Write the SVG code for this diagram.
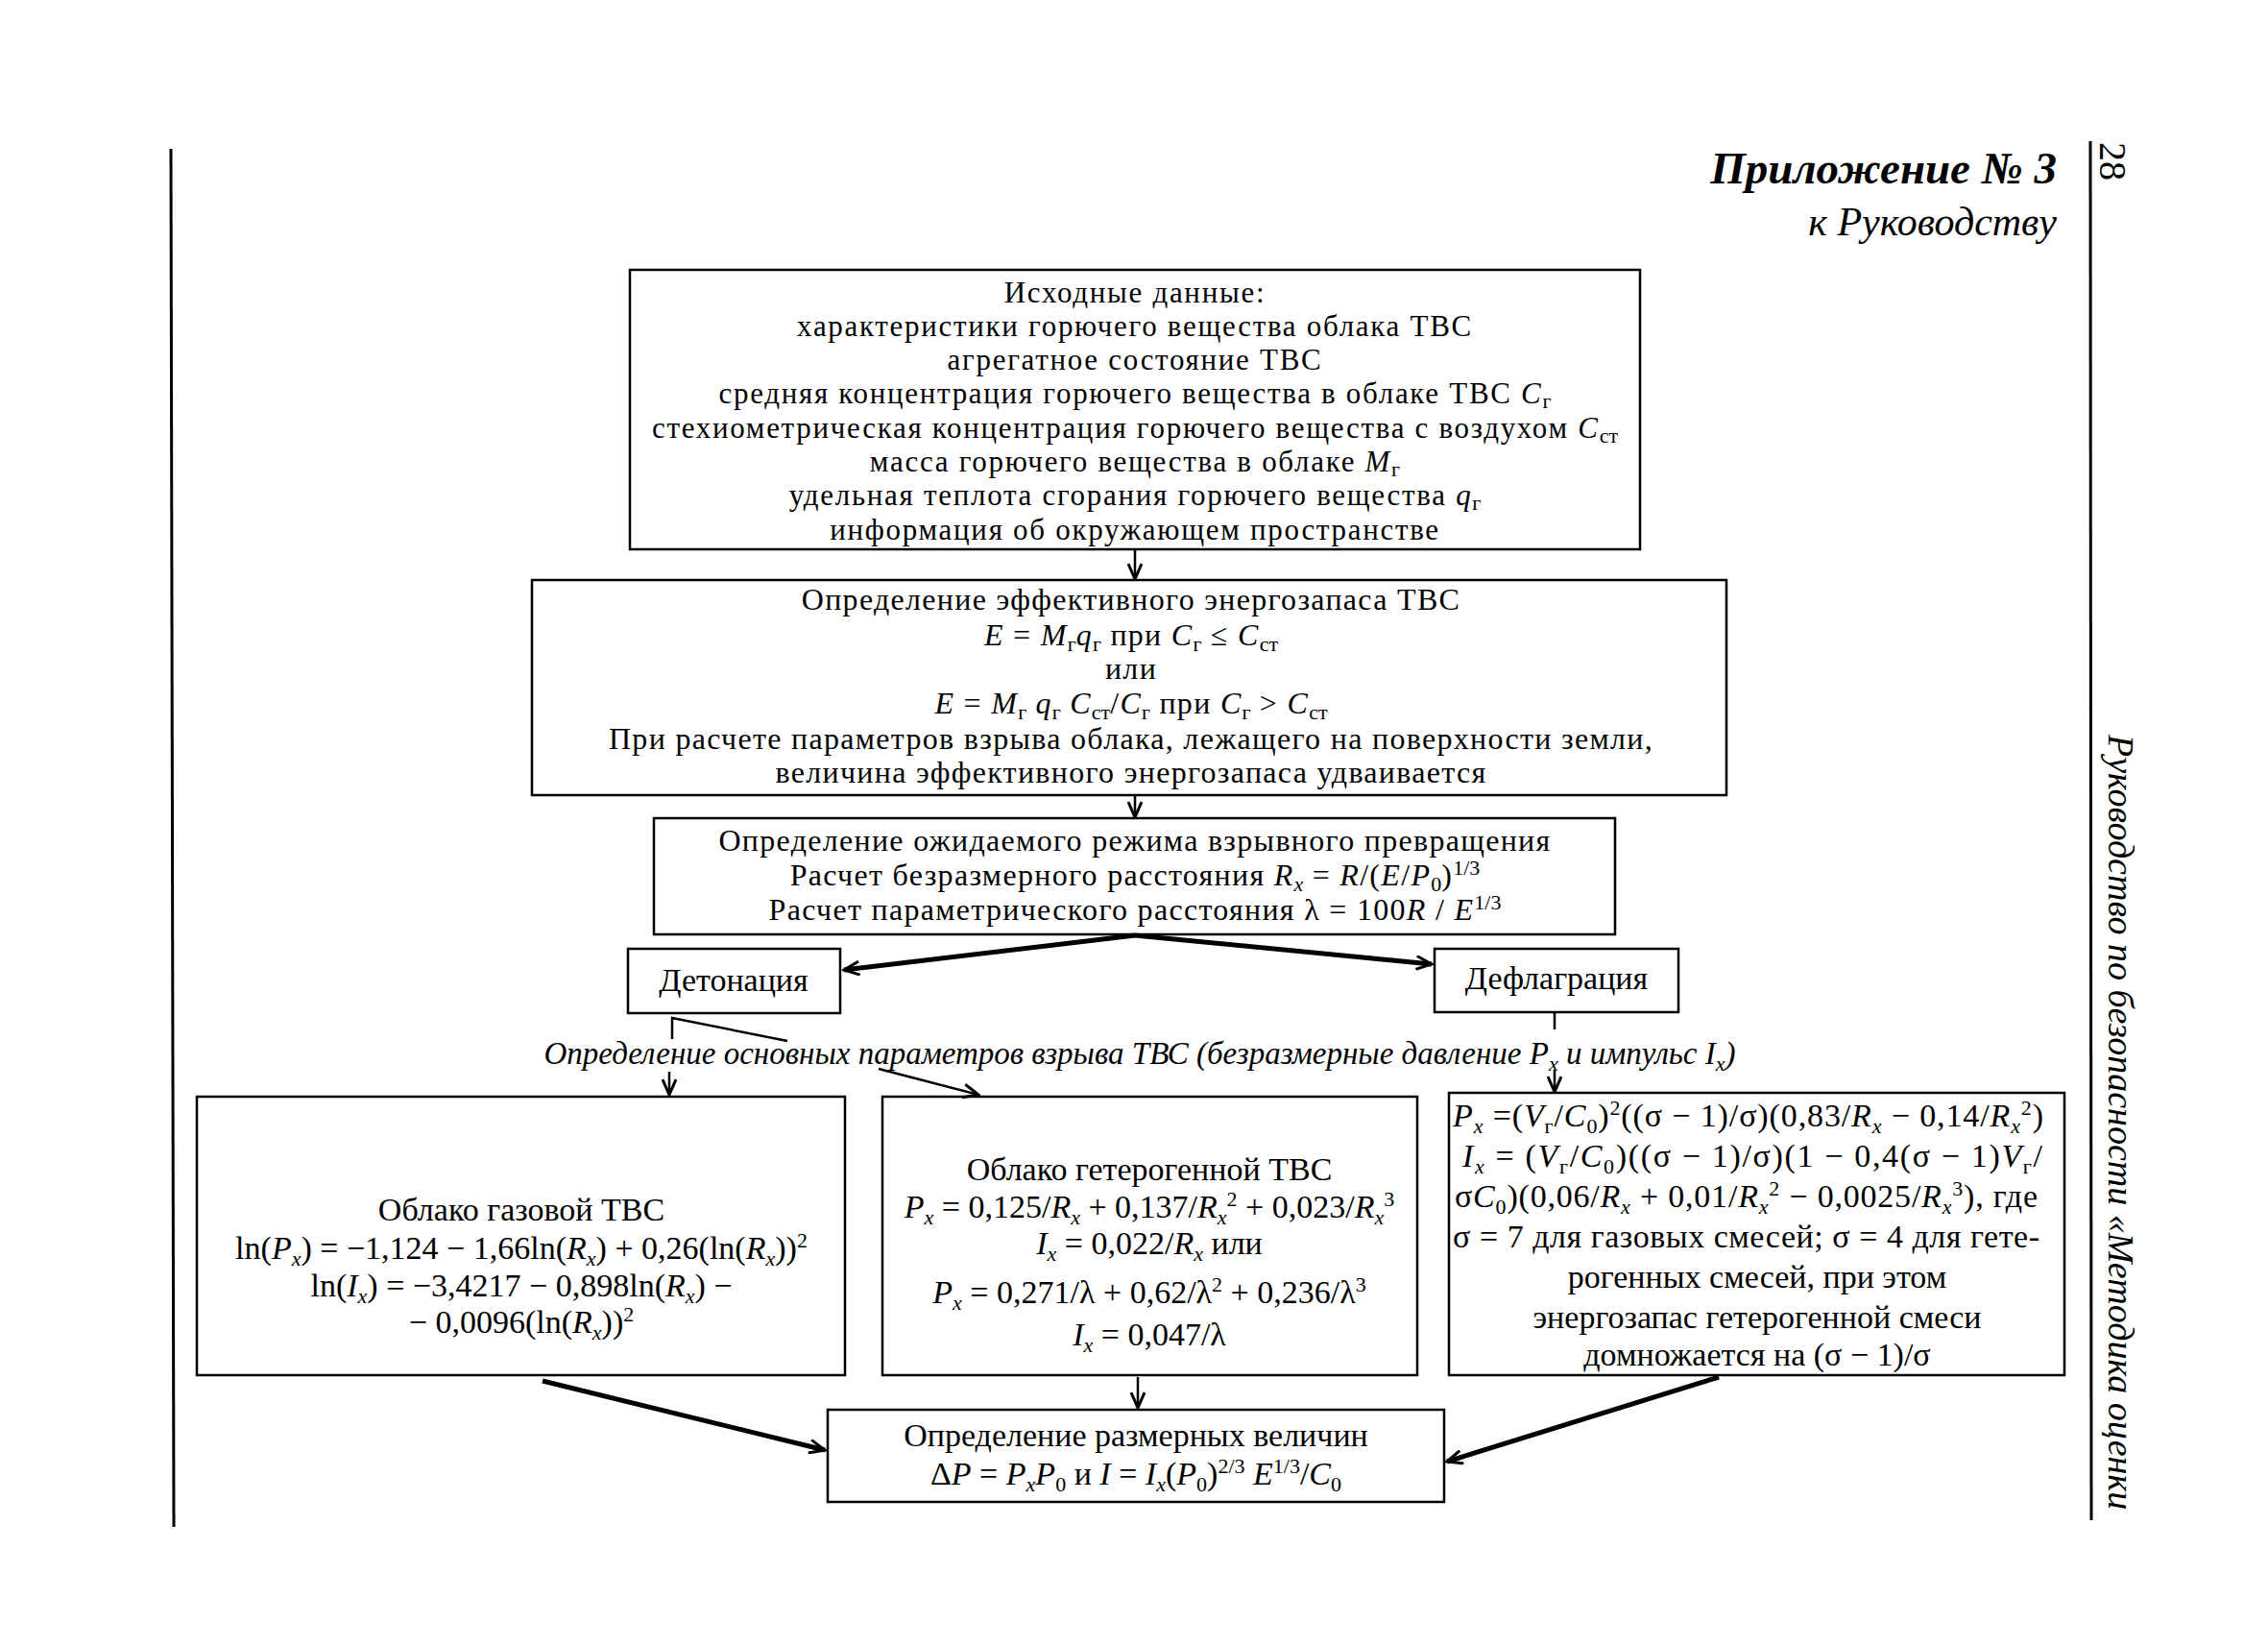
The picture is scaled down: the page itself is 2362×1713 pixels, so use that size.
<svg xmlns="http://www.w3.org/2000/svg" width="2362" height="1713" viewBox="0 0 2362 1713">
<defs>
<style>
.t{font-family:"Liberation Serif","Times New Roman",serif;font-size:34px;fill:#000}
.k{font-size:32px;letter-spacing:1.3px}
.k1{font-size:31px;letter-spacing:1.7px}
.c{text-anchor:middle}
.i{font-style:italic}
.s{font-size:22px;letter-spacing:0}
.box{fill:none;stroke:#000;stroke-width:2.5}
.ln{fill:none;stroke:#000;stroke-width:2.5}
.thk{stroke-width:5}
</style>
<marker id="ah" markerUnits="userSpaceOnUse" viewBox="0 0 20 16" markerWidth="20" markerHeight="16" refX="18" refY="8" orient="auto"><path d="M2,1 L18,8 L2,15" fill="none" stroke="#000" stroke-width="3"/></marker>
</defs>
<rect width="2362" height="1713" fill="#fff"/>

<g id="page">
<line x1="178" y1="155" x2="181" y2="1590" stroke="#000" stroke-width="3"/>
<line x1="2177" y1="147" x2="2178" y2="1583" stroke="#000" stroke-width="3"/>
<text class="t i" x="2142" y="191" style="font-size:47px;font-weight:bold;text-anchor:end">Приложение № 3</text>
<text class="t i" x="2142" y="245" style="font-size:42px;text-anchor:end">к Руководству</text>
<text class="t" transform="translate(2187,148) rotate(90)" style="font-size:40px">28</text>
<text class="t i" transform="translate(2196,765) rotate(90)" style="font-size:38px">Руководство по безопасности «Методика оценки</text>
</g>

<g id="n1">
<rect class="box" x="656" y="281" width="1052" height="291"/>
<text class="t k1 c" x="1182" y="315">Исходные данные:</text>
<text class="t k1 c" x="1182" y="350">характеристики горючего вещества облака ТВС</text>
<text class="t k1 c" x="1182" y="385">агрегатное состояние ТВС</text>
<text class="t k1 c" x="1182" y="420">средняя концентрация горючего вещества в облаке ТВС  <tspan class="i">C</tspan><tspan class="s" dy="5">г</tspan></text>
<text class="t k1 c" x="1182" y="456">стехиометрическая концентрация горючего вещества с воздухом <tspan class="i">C</tspan><tspan class="s" dy="5">ст</tspan></text>
<text class="t k1 c" x="1182" y="491">масса горючего вещества в облаке <tspan class="i">M</tspan><tspan class="s" dy="5">г</tspan></text>
<text class="t k1 c" x="1182" y="526">удельная теплота сгорания горючего вещества <tspan class="i">q</tspan><tspan class="s" dy="5">г</tspan></text>
<text class="t k1 c" x="1182" y="562">информация об окружающем пространстве</text>
</g>

<g id="n2">
<rect class="box" x="554" y="604" width="1244" height="224"/>
<text class="t k c" x="1178" y="635">Определение эффективного энергозапаса ТВС</text>
<text class="t k c" x="1178" y="672"><tspan class="i">E</tspan> = <tspan class="i">M</tspan><tspan class="s" dy="6">г</tspan><tspan class="i" dy="-6">q</tspan><tspan class="s" dy="6">г</tspan><tspan dy="-6"> при </tspan><tspan class="i">C</tspan><tspan class="s" dy="6">г</tspan><tspan dy="-6"> ≤ </tspan><tspan class="i">C</tspan><tspan class="s" dy="6">ст</tspan></text>
<text class="t k c" x="1178" y="707">или</text>
<text class="t k c" x="1178" y="743"><tspan class="i">E</tspan> = <tspan class="i">M</tspan><tspan class="s" dy="6">г</tspan><tspan class="i" dy="-6"> q</tspan><tspan class="s" dy="6">г</tspan><tspan class="i" dy="-6"> C</tspan><tspan class="s" dy="6">ст</tspan><tspan dy="-6">/</tspan><tspan class="i">C</tspan><tspan class="s" dy="6">г</tspan><tspan dy="-6"> при </tspan><tspan class="i">C</tspan><tspan class="s" dy="6">г</tspan><tspan dy="-6"> &gt; </tspan><tspan class="i">C</tspan><tspan class="s" dy="6">ст</tspan></text>
<text class="t k c" x="1178" y="780">При расчете параметров взрыва облака, лежащего на поверхности земли,</text>
<text class="t k c" x="1178" y="815">величина эффективного энергозапаса удваивается</text>
</g>

<g id="n3">
<rect class="box" x="681" y="852" width="1001" height="121"/>
<text class="t k c" x="1182" y="886">Определение ожидаемого режима взрывного превращения</text>
<text class="t k c" x="1182" y="922">Расчет безразмерного расстояния <tspan class="i">R</tspan><tspan class="s i" dy="6">x</tspan><tspan dy="-6"> = </tspan><tspan class="i">R</tspan>/(<tspan class="i">E</tspan>/<tspan class="i">P</tspan><tspan class="s" dy="6">0</tspan><tspan dy="-6">)</tspan><tspan class="s" dy="-11">1/3</tspan></text>
<text class="t k c" x="1182" y="958">Расчет параметрического расстояния λ = 100<tspan class="i">R</tspan> / <tspan class="i">E</tspan><tspan class="s" dy="-11">1/3</tspan></text>
</g>

<g id="n4">
<rect class="box" x="654" y="988" width="221" height="67"/>
<text class="t c" x="764" y="1032">Детонация</text>
</g>

<g id="n5">
<rect class="box" x="1494" y="988" width="254" height="66"/>
<text class="t c" x="1621" y="1030">Дефлаграция</text>
</g>

<g id="label">
<text class="t c i" x="1187" y="1108" style="font-size:33px">Определение основных параметров взрыва ТВС (безразмерные давление <tspan>P</tspan><tspan class="s" dy="7">x</tspan><tspan dy="-7"> и импульс I</tspan><tspan class="s" dy="7">x</tspan><tspan dy="-7">)</tspan></text>
</g>

<g id="n6">
<rect class="box" x="205" y="1142" width="675" height="290"/>
<text class="t c" x="543" y="1271">Облако газовой ТВС</text>
<text class="t c" x="543" y="1311">ln(<tspan class="i">P</tspan><tspan class="s i" dy="7">x</tspan><tspan dy="-7">) = −1,124 − 1,66ln(</tspan><tspan class="i">R</tspan><tspan class="s i" dy="7">x</tspan><tspan dy="-7">) + 0,26(ln(</tspan><tspan class="i">R</tspan><tspan class="s i" dy="7">x</tspan><tspan dy="-7">))</tspan><tspan class="s" dy="-12">2</tspan></text>
<text class="t c" x="543" y="1350">ln(<tspan class="i">I</tspan><tspan class="s i" dy="7">x</tspan><tspan dy="-7">) = −3,4217 − 0,898ln(</tspan><tspan class="i">R</tspan><tspan class="s i" dy="7">x</tspan><tspan dy="-7">) −</tspan></text>
<text class="t c" x="543" y="1388">− 0,0096(ln(<tspan class="i">R</tspan><tspan class="s i" dy="7">x</tspan><tspan dy="-7">))</tspan><tspan class="s" dy="-12">2</tspan></text>
</g>

<g id="n7">
<rect class="box" x="919" y="1142" width="557" height="290"/>
<text class="t c" x="1197" y="1229">Облако гетерогенной ТВС</text>
<text class="t c" x="1197" y="1268"><tspan class="i">P</tspan><tspan class="s i" dy="7">x</tspan><tspan dy="-7"> = 0,125/</tspan><tspan class="i">R</tspan><tspan class="s i" dy="7">x</tspan><tspan dy="-7"> + 0,137/</tspan><tspan class="i">R</tspan><tspan class="s i" dy="7">x</tspan><tspan class="s" dy="-19">2</tspan><tspan dy="12"> + 0,023/</tspan><tspan class="i">R</tspan><tspan class="s i" dy="7">x</tspan><tspan class="s" dy="-19">3</tspan></text>
<text class="t c" x="1197" y="1306"><tspan class="i">I</tspan><tspan class="s i" dy="7">x</tspan><tspan dy="-7"> = 0,022/</tspan><tspan class="i">R</tspan><tspan class="s i" dy="7">x</tspan><tspan dy="-7"> или</tspan></text>
<text class="t c" x="1197" y="1357"><tspan class="i">P</tspan><tspan class="s i" dy="7">x</tspan><tspan dy="-7"> = 0,271/λ + 0,62/λ</tspan><tspan class="s" dy="-12">2</tspan><tspan dy="12"> + 0,236/λ</tspan><tspan class="s" dy="-12">3</tspan></text>
<text class="t c" x="1197" y="1401"><tspan class="i">I</tspan><tspan class="s i" dy="7">x</tspan><tspan dy="-7"> = 0,047/λ</tspan></text>
</g>

<g id="n8">
<rect class="box" x="1509" y="1138" width="641" height="294"/>
<text class="t" x="1513" y="1173" textLength="615" lengthAdjust="spacing"><tspan class="i">P</tspan><tspan class="s i" dy="7">x</tspan><tspan dy="-7"> =(</tspan><tspan class="i">V</tspan><tspan class="s" dy="7">г</tspan><tspan dy="-7">/</tspan><tspan class="i">C</tspan><tspan class="s" dy="7">0</tspan><tspan dy="-7">)</tspan><tspan class="s" dy="-12">2</tspan><tspan dy="12">((σ − 1)/σ)(0,83/</tspan><tspan class="i">R</tspan><tspan class="s i" dy="7">x</tspan><tspan dy="-7"> − 0,14/</tspan><tspan class="i">R</tspan><tspan class="s i" dy="7">x</tspan><tspan class="s" dy="-19">2</tspan><tspan dy="12">)</tspan></text>
<text class="t" x="1523" y="1215" textLength="604" lengthAdjust="spacing"><tspan class="i">I</tspan><tspan class="s i" dy="7">x</tspan><tspan dy="-7"> = (</tspan><tspan class="i">V</tspan><tspan class="s" dy="7">г</tspan><tspan dy="-7">/</tspan><tspan class="i">C</tspan><tspan class="s" dy="7">0</tspan><tspan dy="-7">)((σ − 1)/σ)(1 − 0,4(σ − 1)</tspan><tspan class="i">V</tspan><tspan class="s" dy="7">г</tspan><tspan dy="-7">/</tspan></text>
<text class="t" x="1515" y="1257" textLength="607" lengthAdjust="spacing">σ<tspan class="i">C</tspan><tspan class="s" dy="7">0</tspan><tspan dy="-7">)(0,06/</tspan><tspan class="i">R</tspan><tspan class="s i" dy="7">x</tspan><tspan dy="-7"> + 0,01/</tspan><tspan class="i">R</tspan><tspan class="s i" dy="7">x</tspan><tspan class="s" dy="-19">2</tspan><tspan dy="12"> − 0,0025/</tspan><tspan class="i">R</tspan><tspan class="s i" dy="7">x</tspan><tspan class="s" dy="-19">3</tspan><tspan dy="12">), где</tspan></text>
<text class="t" x="1513" y="1299" textLength="611" lengthAdjust="spacing">σ = 7 для газовых смесей; σ = 4 для гете-</text>
<text class="t c" x="1830" y="1341">рогенных смесей, при этом</text>
<text class="t c" x="1830" y="1383">энергозапас гетерогенной смеси</text>
<text class="t c" x="1830" y="1422">домножается на (σ − 1)/σ</text>
</g>

<g id="n9">
<rect class="box" x="862" y="1468" width="642" height="96"/>
<text class="t c" x="1183" y="1506">Определение размерных величин</text>
<text class="t c" x="1183" y="1546">Δ<tspan class="i">P</tspan> = <tspan class="i">P</tspan><tspan class="s i" dy="7">x</tspan><tspan class="i" dy="-7">P</tspan><tspan class="s" dy="7">0</tspan><tspan dy="-7"> и </tspan><tspan class="i">I</tspan> = <tspan class="i">I</tspan><tspan class="s i" dy="7">x</tspan><tspan dy="-7">(</tspan><tspan class="i">P</tspan><tspan class="s" dy="7">0</tspan><tspan dy="-7">)</tspan><tspan class="s" dy="-12">2/3</tspan><tspan class="i" dy="12"> E</tspan><tspan class="s" dy="-12">1/3</tspan><tspan dy="12">/</tspan><tspan class="i">C</tspan><tspan class="s" dy="7">0</tspan></text>
</g>

<g id="connectors">
<line class="ln" x1="1182" y1="572" x2="1182" y2="603" marker-end="url(#ah)"/>
<line class="ln" x1="1182" y1="828" x2="1182" y2="851" marker-end="url(#ah)"/>
<line class="ln thk" x1="1182" y1="974" x2="879" y2="1010" marker-end="url(#ah)"/>
<line class="ln thk" x1="1182" y1="974" x2="1491" y2="1004" marker-end="url(#ah)"/>
<line class="ln" x1="1619" y1="1054" x2="1619" y2="1072" stroke-width="4"/>
<polyline class="ln" points="700,1082 700,1060 820,1084" stroke-width="4"/>
<line class="ln" x1="697" y1="1116" x2="697" y2="1140" marker-end="url(#ah)"/>
<line class="ln" x1="915" y1="1113" x2="1019" y2="1140" stroke-width="4" marker-end="url(#ah)"/>
<line class="ln" x1="1619" y1="1114" x2="1619" y2="1137" marker-end="url(#ah)"/>
<line class="ln thk" x1="565" y1="1438" x2="859" y2="1510" marker-end="url(#ah)"/>
<line class="ln" x1="1185" y1="1434" x2="1185" y2="1466" marker-end="url(#ah)"/>
<line class="ln thk" x1="1790" y1="1434" x2="1507" y2="1522" marker-end="url(#ah)"/>
</g>
</svg>
